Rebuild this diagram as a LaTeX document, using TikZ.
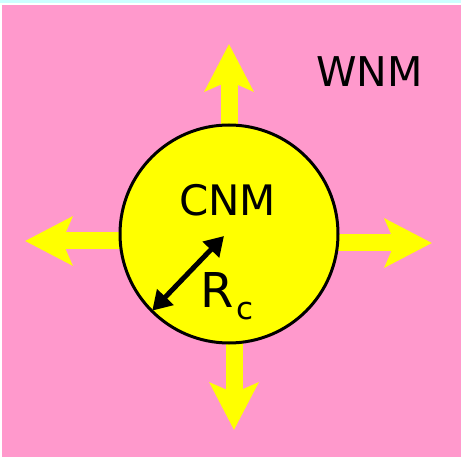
\documentclass[tikz,border=0pt]{standalone}
\usepackage{fontspec}
\setmainfont{DejaVu Sans}
\usetikzlibrary{arrows.meta,backgrounds}
\definecolor{wnmpink}{RGB}{255,153,204}
\definecolor{cnmyellow}{RGB}{255,255,0}
\definecolor{topcyan}{RGB}{204,255,255}
\tikzset{
  flow/.style={cnmyellow,line width=17pt,-{Stealth[length=47pt,width=48pt,inset=10pt]}},
  cloud/.style={circle,draw=black,line width=3pt,fill=cnmyellow,minimum size=218pt,inner sep=0pt},
  radius arrow/.style={black,line width=5pt,{Triangle[length=19pt,width=22pt]}-{Triangle[length=19pt,width=22pt]}},
  label big/.style={font=\fontsize{42}{42}\selectfont,anchor=base},
}
\begin{document}
\begin{tikzpicture}[x=1pt,y=-1pt]
  \useasboundingbox (0,0) rectangle (461,457);
  \node[cloud] (cnm) at (229,234) {};
  \coordinate (tipN) at (229,44);
  \coordinate (tipW) at (25,241);
  \coordinate (tipE) at (432,243);
  \coordinate (tipS) at (234,430);
  \begin{scope}[on background layer]
    \fill[topcyan] (0,0) rectangle (461,3);
    \fill[wnmpink] (2,5) rectangle (461,457);
    \foreach \t in {tipW,tipE}
      \draw[flow] (cnm.center |- \t) -- (\t);
    \foreach \t in {tipN,tipS}
      \draw[flow] (cnm.center -| \t) -- (\t);
  \end{scope}
  \node[label big,font=\fontsize{41}{41}\selectfont] (wnm) at (369.5,87) {WNM};
  \node[label big] (cnmlabel) at (227.5,216) {CNM};
  \coordinate (rctip) at (224,236);
  \draw[radius arrow,shorten <=2pt] (cnm.225) -- (rctip);
  \node[anchor=base west,inner sep=0pt,font=\fontsize{48}{48}\selectfont] (rc) at (200,308)
    {R\kern3pt\raisebox{-12pt}{\fontsize{31}{31}\selectfont c}};
\end{tikzpicture}
\end{document}
